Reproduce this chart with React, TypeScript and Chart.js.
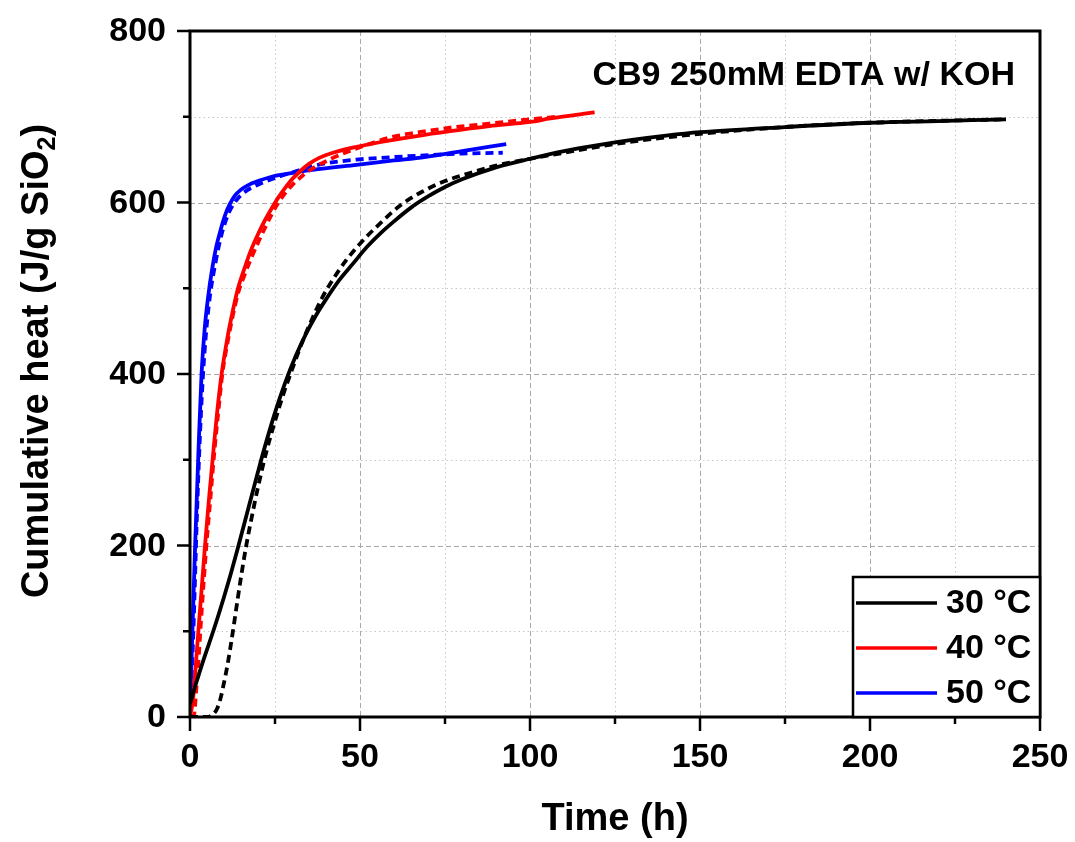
import React, { useEffect, useRef } from "react";
import { Chart, registerables } from "chart.js";

Chart.register(...registerables);

const FONT = '"Liberation Sans", Arial, Helvetica, sans-serif';

// ---- axis ticks ----
const xMajorTicks = [0, 50, 100, 150, 200, 250];
const xMinorTicks = [25, 75, 125, 175, 225];
const yMajorTicks = [0, 200, 400, 600, 800];
const yMinorTicks = [100, 300, 500, 700];

// ---- series (time h, cumulative heat J/g SiO2) ----
const t30 = [0, 1, 2, 4, 7, 10, 12, 14, 16, 18, 20, 22, 25, 28, 31, 34, 37, 40, 44, 48, 52, 56, 60, 65, 70, 75, 80, 90, 100, 110, 120, 130, 140, 150, 175, 200, 220, 240];
const q30 = [15, 29, 42, 67, 102, 140, 167, 196, 226, 256, 286, 315, 355, 390, 420, 446, 468, 487, 510, 529, 548, 564, 578, 594, 607, 618, 627, 641, 651, 660, 667, 673, 678, 682, 688, 693, 695, 697];
const t30fit = [0, 5, 6, 7, 8, 9, 10, 11, 12, 13, 14, 15, 16.5, 18, 20, 22.5, 25, 27.5, 30, 33, 36, 39, 42, 46, 50, 56, 62, 68, 75, 82, 90, 100, 110, 120, 130, 150, 175, 200, 240];
const q30fit = [0, 0, 1, 4, 10, 22, 40, 60, 84, 110, 137, 163, 199, 230, 268, 310, 345, 377, 405, 437, 465, 490, 510, 533, 552, 576, 597, 612, 625, 634, 643, 651, 658, 665, 671, 680, 688, 693, 697];

const t40 = [0, 0.5, 1, 1.7, 2.4, 3.4, 4.4, 5.6, 6.9, 8, 9.3, 11, 12.5, 14, 16, 18, 20, 22, 24, 26, 28, 30, 32, 35, 38, 42, 49, 58, 69, 80, 88, 100, 106, 119];
const q40 = [3, 10, 25, 60, 97, 148, 199, 255, 311, 356, 400, 442, 472, 498, 523, 545, 563, 579, 593, 606, 617, 627, 635, 645, 652, 658, 665, 672, 679, 685, 689, 694, 698, 705];
const t40fit = [0, 1.2, 1.8, 2.4, 3.2, 4.8, 6, 7.2, 8.3, 9.5, 11.2, 12.7, 14.2, 16, 18, 20, 22, 24, 26, 28, 30, 33, 37, 41, 45, 49, 54, 59, 64, 69, 78, 88, 100, 108];
const q40fit = [0, 3, 30, 60, 110, 199, 255, 311, 355, 400, 440, 470, 495, 515, 535, 553, 570, 586, 600, 611, 620, 631, 642, 650, 657, 663, 670, 676, 680, 683, 688, 692, 697, 700];

const t50 = [0, 0.7, 1.5, 2.5, 3.4, 4.3, 5.4, 6.5, 7.7, 9, 10.3, 11.7, 13.2, 15, 17, 20, 24, 28, 36, 49, 60, 69, 80, 93];
const q50 = [5, 99, 199, 311, 400, 452, 492, 522, 548, 568, 585, 598, 608, 615, 620, 625, 630, 633, 638, 644, 649, 653, 660, 668];
const t50fit = [0, 1, 2, 3, 4, 5, 6, 7.5, 9.3, 11.3, 13.5, 16, 19, 22, 26, 30, 34, 39, 49, 60, 69, 80, 92];
const q50fit = [0, 100, 230, 335, 410, 460, 495, 530, 563, 587, 602, 612, 619, 624, 630, 635, 640, 645, 650, 653, 655, 657, 658];

const legendLabels = ["30 °C", "40 °C", "50 °C"];
const seriesColors = ["#000000", "#ff0000", "#0000ff"];
const annotationText = "CB9 250mM EDTA w/ KOH";
const xTitle = "Time (h)";
const yTitleMain = "Cumulative heat (J/g SiO";
const yTitleSub = "2";
const yTitleEnd = ")";

const pts = (t: number[], q: number[]) => t.map((x, i) => ({ x, y: q[i] }));

const decorPlugin = {
  id: "decor",
  beforeDatasetsDraw(chart: any) {
    const { ctx, chartArea: a, scales } = chart;
    const xs = scales.x;
    const ys = scales.y;
    ctx.save();
    ctx.lineWidth = 1;
    // minor dotted grid
    ctx.strokeStyle = "#c8c8c8";
    ctx.setLineDash([1.5, 3]);
    xMinorTicks.forEach((v) => {
      const px = Math.round(xs.getPixelForValue(v)) + 0.5;
      ctx.beginPath();
      ctx.moveTo(px, a.top);
      ctx.lineTo(px, a.bottom);
      ctx.stroke();
    });
    yMinorTicks.forEach((v) => {
      const py = Math.round(ys.getPixelForValue(v)) + 0.5;
      ctx.beginPath();
      ctx.moveTo(a.left, py);
      ctx.lineTo(a.right, py);
      ctx.stroke();
    });
    // major dashed grid
    ctx.strokeStyle = "#a8a8a8";
    ctx.setLineDash([5, 3]);
    xMajorTicks.forEach((v) => {
      const px = Math.round(xs.getPixelForValue(v)) + 0.5;
      ctx.beginPath();
      ctx.moveTo(px, a.top);
      ctx.lineTo(px, a.bottom);
      ctx.stroke();
    });
    yMajorTicks.forEach((v) => {
      const py = Math.round(ys.getPixelForValue(v)) + 0.5;
      ctx.beginPath();
      ctx.moveTo(a.left, py);
      ctx.lineTo(a.right, py);
      ctx.stroke();
    });
    ctx.restore();
  },
  afterDatasetsDraw(chart: any) {
    const { ctx, chartArea: a, scales } = chart;
    const xs = scales.x;
    const ys = scales.y;
    ctx.save();
    ctx.setLineDash([]);
    ctx.strokeStyle = "#000";
    ctx.lineCap = "butt";

    // ticks
    ctx.lineWidth = 2.5;
    const tick = (v: number, len: number, horiz: boolean) => {
      ctx.beginPath();
      if (horiz) {
        const px = xs.getPixelForValue(v);
        ctx.moveTo(px, a.bottom);
        ctx.lineTo(px, a.bottom + len);
      } else {
        const py = ys.getPixelForValue(v);
        ctx.moveTo(a.left, py);
        ctx.lineTo(a.left - len, py);
      }
      ctx.stroke();
    };
    xMajorTicks.forEach((v) => tick(v, 14, true));
    xMinorTicks.forEach((v) => tick(v, 7, true));
    yMajorTicks.forEach((v) => tick(v, 13, false));
    yMinorTicks.forEach((v) => tick(v, 7, false));

    // frame
    ctx.lineWidth = 3;
    ctx.strokeRect(a.left, a.top, a.right - a.left, a.bottom - a.top);

    // tick labels
    ctx.fillStyle = "#000";
    ctx.font = `bold 34px ${FONT}`;
    ctx.textAlign = "center";
    ctx.textBaseline = "middle";
    xMajorTicks.forEach((v) => {
      ctx.fillText(String(v), xs.getPixelForValue(v), a.bottom + 41);
    });
    ctx.textAlign = "right";
    yMajorTicks.forEach((v) => {
      ctx.fillText(String(v), a.left - 24, ys.getPixelForValue(v) + 1);
    });

    // annotation
    ctx.font = `bold 34px ${FONT}`;
    ctx.textAlign = "right";
    ctx.textBaseline = "middle";
    ctx.fillText(annotationText, a.right - 25, 76);

    // legend
    const lx0 = 853;
    const ly0 = 577;
    ctx.fillStyle = "#fff";
    ctx.fillRect(lx0, ly0, a.right - lx0, a.bottom - ly0);
    ctx.lineWidth = 2.5;
    ctx.strokeStyle = "#000";
    ctx.strokeRect(lx0, ly0, a.right - lx0, a.bottom - ly0);
    const rowY = [603, 648, 693];
    ctx.font = `bold 34px ${FONT}`;
    ctx.textAlign = "left";
    ctx.textBaseline = "middle";
    legendLabels.forEach((lab, i) => {
      ctx.strokeStyle = seriesColors[i];
      ctx.lineWidth = 3.5;
      ctx.beginPath();
      ctx.moveTo(856, rowY[i]);
      ctx.lineTo(937, rowY[i]);
      ctx.stroke();
      ctx.fillStyle = "#000";
      ctx.fillText(lab, 946, rowY[i] + 1);
    });

    // x title
    ctx.font = `bold 38px ${FONT}`;
    ctx.textAlign = "center";
    ctx.textBaseline = "middle";
    ctx.fillStyle = "#000";
    ctx.fillText(xTitle, (a.left + a.right) / 2, 820);

    // y title with subscript
    ctx.save();
    ctx.translate(38, 361);
    ctx.rotate(-Math.PI / 2);
    const big = `bold 38px ${FONT}`;
    const small = `bold 25px ${FONT}`;
    ctx.font = big;
    const w1 = ctx.measureText(yTitleMain).width;
    const w3 = ctx.measureText(yTitleEnd).width;
    ctx.font = small;
    const w2 = ctx.measureText(yTitleSub).width;
    const total = w1 + w2 + w3;
    let x = -total / 2;
    ctx.textAlign = "left";
    ctx.textBaseline = "middle";
    ctx.font = big;
    ctx.fillText(yTitleMain, x, 0);
    x += w1;
    ctx.font = small;
    ctx.fillText(yTitleSub, x, 10);
    x += w2;
    ctx.font = big;
    ctx.fillText(yTitleEnd, x, 0);
    ctx.restore();

    ctx.restore();
  },
};

export default function App() {
  const ref = useRef<HTMLCanvasElement | null>(null);
  useEffect(() => {
    if (!ref.current) return;
    const solid = (label: string, data: any, color: string) => ({
      label,
      data,
      borderColor: color,
      backgroundColor: color,
      borderWidth: 3.8,
      pointRadius: 0,
      fill: false,
      cubicInterpolationMode: "monotone" as const,
    });
    const dashed = (label: string, data: any, color: string) => ({
      ...solid(label, data, color),
      borderDash: [8, 5],
    });
    const chart = new Chart(ref.current, {
      type: "line",
      data: {
        datasets: [
          solid(legendLabels[0], pts(t30, q30), seriesColors[0]),
          dashed(legendLabels[0] + " fit", pts(t30fit, q30fit), seriesColors[0]),
          solid(legendLabels[1], pts(t40, q40), seriesColors[1]),
          dashed(legendLabels[1] + " fit", pts(t40fit, q40fit), seriesColors[1]),
          solid(legendLabels[2], pts(t50, q50), seriesColors[2]),
          dashed(legendLabels[2] + " fit", pts(t50fit, q50fit), seriesColors[2]),
        ],
      },
      options: {
        animation: false,
        responsive: false,
        layout: { padding: { top: 31, right: 35, left: 0, bottom: 0 } },
        plugins: {
          legend: { display: false },
          tooltip: { enabled: false },
          title: { display: false },
        },
        scales: {
          x: {
            type: "linear",
            min: 0,
            max: 250,
            afterFit: (s: any) => {
              s.height = 125;
            },
            grid: { display: false, drawTicks: false },
            border: { display: false },
            ticks: { display: false },
          },
          y: {
            type: "linear",
            min: 0,
            max: 800,
            afterFit: (s: any) => {
              s.width = 190;
            },
            grid: { display: false, drawTicks: false },
            border: { display: false },
            ticks: { display: false },
          },
        },
      },
      plugins: [decorPlugin],
    } as any);
    return () => chart.destroy();
  }, []);
  return (
    <div style={{ position: "fixed", left: 0, top: 0, width: 1075, height: 842, background: "#fff" }}>
      <canvas ref={ref} width={1075} height={842} style={{ display: "block" }} />
    </div>
  );
}
